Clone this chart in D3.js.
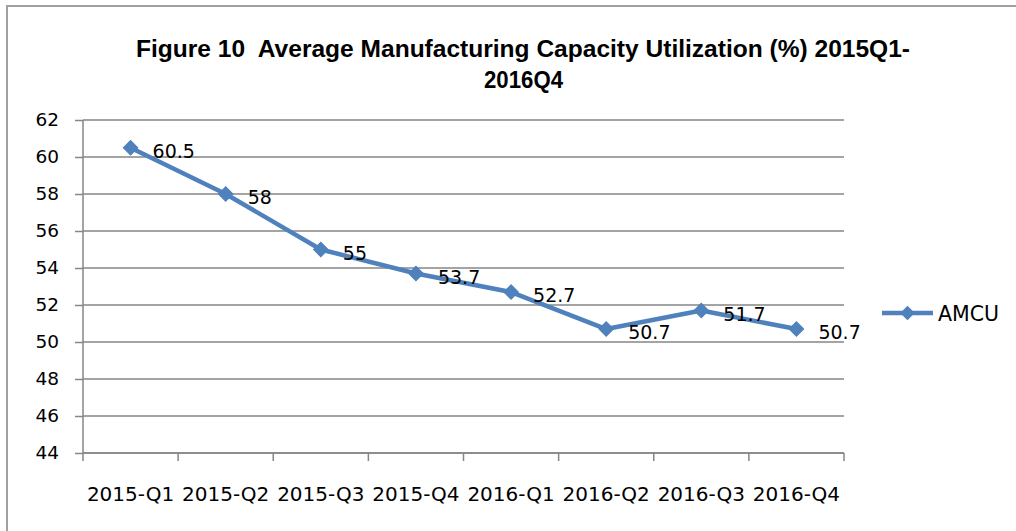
<!DOCTYPE html>
<html>
<head>
<meta charset="utf-8">
<script src="https://cdn.jsdelivr.net/npm/d3@7"></script>
<style>
  html, body { margin: 0; padding: 0; background: #fff; }
  svg { display: block; }
  .title-text { white-space: pre; }
</style>
</head>
<body>
<svg id="chart" width="1016" height="531"></svg>
<script>
// chart data
const categories = ["2015-Q1", "2015-Q2", "2015-Q3", "2015-Q4", "2016-Q1", "2016-Q2", "2016-Q3", "2016-Q4"];
const amcu = [60.5, 58, 55, 53.7, 52.7, 50.7, 51.7, 50.7];
const yTicks = [44, 46, 48, 50, 52, 54, 56, 58, 60, 62];
const seriesName = "AMCU";
const titleLines = ["Figure 10  Average Manufacturing Capacity Utilization (%) 2015Q1-", "2016Q4"];

const BLUE = "#4F81BD";
const GRID = "#868686";
const LABEL_FONT = "'DejaVu Sans', Verdana, sans-serif";

const svg = d3.select("#chart");

// outer frame (left and top edges only are visible)
svg.append("path")
  .attr("d", "M7,531 V6 H1016")
  .attr("fill", "none")
  .attr("stroke", "#a0a0a0")
  .attr("stroke-width", 2);

// title
const title = svg.append("g")
  .attr("font-family", "'Liberation Sans Narrow', 'Liberation Sans', Arial, sans-serif")
  .attr("font-weight", "bold")
  .attr("font-size", "24px")
  .attr("fill", "#000");
title.append("text")
  .attr("class", "title-text")
  .attr("xml:space", "preserve")
  .attr("x", 136).attr("y", 57)
  .attr("textLength", 774)
  .attr("lengthAdjust", "spacingAndGlyphs")
  .text(titleLines[0]);
title.append("text")
  .attr("class", "title-text")
  .attr("x", 484).attr("y", 88)
  .attr("textLength", 79)
  .attr("lengthAdjust", "spacingAndGlyphs")
  .text(titleLines[1]);

// scales
const x = d3.scaleBand().domain(categories).range([83, 844]);
const y = d3.scaleLinear().domain([44, 62]).range([453, 120]);

// horizontal gridlines
svg.append("g")
  .selectAll("line")
  .data(yTicks)
  .join("line")
  .attr("x1", 83).attr("x2", 844)
  .attr("y1", d => y(d)).attr("y2", d => y(d))
  .attr("stroke", GRID)
  .attr("stroke-width", 1.5);

// y axis
const yAxis = svg.append("g")
  .attr("transform", "translate(83,0)")
  .call(d3.axisLeft(y).tickValues(yTicks).tickSize(8).tickPadding(16).tickFormat(d3.format("d")));
yAxis.selectAll("line, path").attr("stroke", GRID).attr("stroke-width", 1.5);
yAxis.select(".domain").attr("d", `M0,${y(44)}V${y(62)}`);
yAxis.selectAll("text")
  .attr("font-family", LABEL_FONT)
  .attr("font-size", "18.5px")
  .attr("fill", "#000");

// x axis: tick marks on band edges, labels centred in each band
const xEdges = categories.map(c => x(c)).concat([x.range()[1]]);
const xAxis = svg.append("g");
xAxis.append("line")
  .attr("x1", 83).attr("x2", 844)
  .attr("y1", y(44)).attr("y2", y(44))
  .attr("stroke", GRID).attr("stroke-width", 1.5);
xAxis.selectAll(".tick")
  .data(xEdges)
  .join("line")
  .attr("class", "tick")
  .attr("x1", d => d).attr("x2", d => d)
  .attr("y1", y(44)).attr("y2", y(44) + 8)
  .attr("stroke", GRID).attr("stroke-width", 1.5);
xAxis.selectAll(".xlabel")
  .data(categories)
  .join("text")
  .attr("class", "xlabel")
  .attr("x", d => x(d) + x.bandwidth() / 2)
  .attr("y", 501)
  .attr("text-anchor", "middle")
  .attr("font-family", LABEL_FONT)
  .attr("font-size", "20px")
  .attr("fill", "#000")
  .text(d => d);

// series line
const pts = categories.map((c, i) => ({ cat: c, v: amcu[i] }));
const cx = d => x(d.cat) + x.bandwidth() / 2;

svg.append("path")
  .datum(pts)
  .attr("fill", "none")
  .attr("stroke", BLUE)
  .attr("stroke-width", 4.5)
  .attr("stroke-linejoin", "round")
  .attr("d", d3.line().x(cx).y(d => y(d.v)));

const diamond = d3.symbol().type(d3.symbolSquare).size(105);

svg.append("g")
  .selectAll("path")
  .data(pts)
  .join("path")
  .attr("d", diamond)
  .attr("transform", d => `translate(${cx(d)},${y(d.v)}) rotate(45)`)
  .attr("fill", BLUE)
  .attr("stroke", BLUE)
  .attr("stroke-width", 1);

// data labels, to the right of each point
svg.append("g")
  .selectAll("text")
  .data(pts)
  .join("text")
  .attr("x", d => cx(d) + 22)
  .attr("y", d => y(d.v) + 10)
  .attr("font-family", LABEL_FONT)
  .attr("font-size", "19px")
  .attr("fill", "#000")
  .text(d => String(d.v));

// legend
const legend = svg.append("g").attr("transform", "translate(882,313)");
legend.append("line")
  .attr("x1", 0).attr("x2", 51)
  .attr("stroke", BLUE).attr("stroke-width", 4.5);
legend.append("path")
  .attr("d", diamond)
  .attr("transform", "translate(25.5,0) rotate(45)")
  .attr("fill", BLUE);
legend.append("text")
  .attr("x", 56).attr("y", 7.5)
  .attr("font-family", LABEL_FONT)
  .attr("font-size", "20.5px")
  .attr("fill", "#000")
  .text(seriesName);
</script>
</body>
</html>
